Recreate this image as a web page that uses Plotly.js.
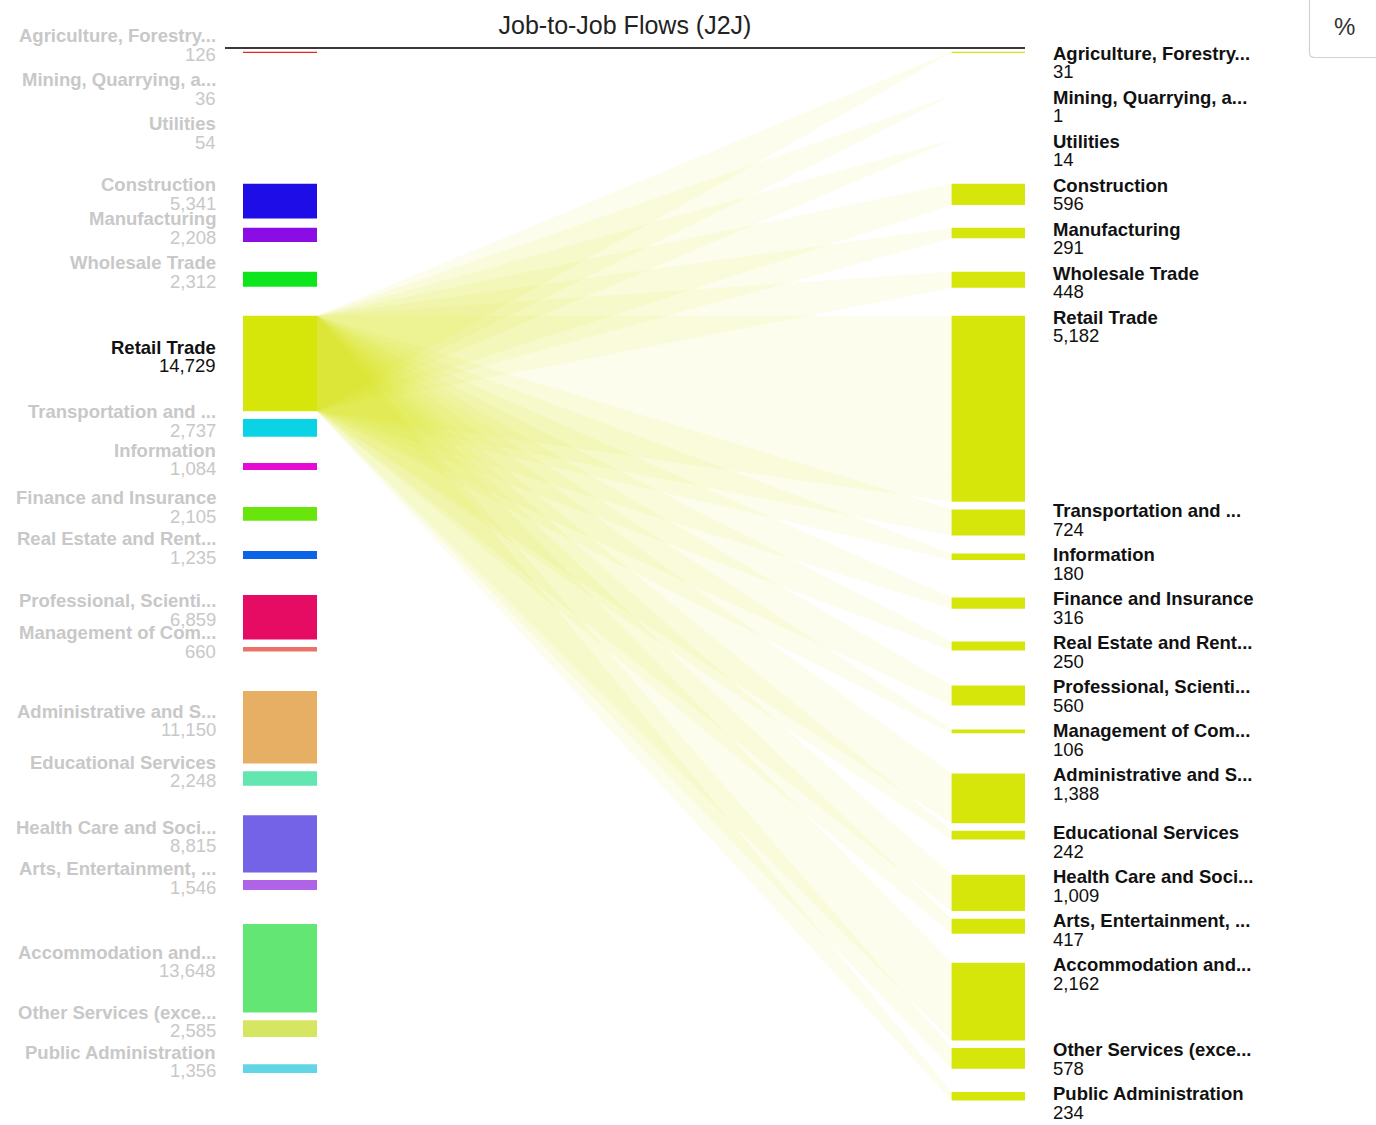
<!DOCTYPE html>
<html>
<head>
<meta charset="utf-8">
<script src="https://cdn.plot.ly/plotly-3.0.1.min.js"></script>
<style>
  html, body { margin: 0; padding: 0; background: #ffffff; }
  #chart { width: 1376px; height: 1125px; }
</style>
</head>
<body>
<div id="chart"></div>
<script>
// ---------------- DATA ----------------
const categories = [
  "Agriculture, Forestry...",
  "Mining, Quarrying, a...",
  "Utilities",
  "Construction",
  "Manufacturing",
  "Wholesale Trade",
  "Retail Trade",
  "Transportation and ...",
  "Information",
  "Finance and Insurance",
  "Real Estate and Rent...",
  "Professional, Scienti...",
  "Management of Com...",
  "Administrative and S...",
  "Educational Services",
  "Health Care and Soci...",
  "Arts, Entertainment, ...",
  "Accommodation and...",
  "Other Services (exce...",
  "Public Administration"
];
// origin industry totals (left column)
const originValues = [126, 36, 54, 5341, 2208, 2312, 14729, 2737, 1084, 2105, 1235, 6859, 660, 11150, 2248, 8815, 1546, 13648, 2585, 1356];
// flows from the selected origin (Retail Trade) into each destination industry (right column)
const destValues = [31, 1, 14, 596, 291, 448, 5182, 724, 180, 316, 250, 560, 106, 1388, 242, 1009, 417, 2162, 578, 234];
const selectedOrigin = "Retail Trade";
const chartTitle = "Job-to-Job Flows (J2J)";

// ---------------- STYLE ----------------
const originColors = [
  "#e6261f", "#e6a00d", "#0de6a0", "#1e0de6", "#8a0de6", "#0de61d", "#d6e60b",
  "#0bd3e6", "#e60bd4", "#68e60b", "#0b63e6", "#e60b63", "#e87366", "#e6af63",
  "#63e6b0", "#7463e6", "#af63e6", "#63e674", "#d6e663", "#63d6e6"
];
const destColor = "#d6e60b";
const flowFill = "rgba(214,230,11,0.08)";
const FONT = "Liberation Sans, Arial, Helvetica, sans-serif";
const FS = 18.5;
const GREY = "rgb(200,200,200)";
const DARK = "#111111";

// ---------------- LAYOUT CONSTANTS (pixels) ----------------
const W = 1376, H = 1125;
const TOP0 = 51.7, SLOT = 44, GAP = 7.6;
const LEFT_X0 = 243, LEFT_X1 = 317;
const RIGHT_X0 = 951.6, RIGHT_X1 = 1025;
const LEFT_SPAN = 525, RIGHT_SPAN = 529;
const LEFT_LABEL_X = 218, RIGHT_LABEL_X = 1051;
const MIN_VISIBLE_PX = 0.6;   // thinner boxes are not drawn
const MIN_DRAWN_PX = 1.4;     // visible boxes are at least this thick

function stackColumn(values, span) {
  const total = values.reduce((a, b) => a + b, 0);
  const s = span / total;
  let y = TOP0;
  return values.map(v => {
    const h = v * s;
    const top = y;
    y += Math.max(SLOT, h + GAP);
    return { top: top, h: h, mid: top + h / 2 };
  });
}
const fmt = v => v.toLocaleString("en-US");
const drawnH = d => (d.h < MIN_VISIBLE_PX ? d.h : Math.max(d.h, MIN_DRAWN_PX));

const left = stackColumn(originValues, LEFT_SPAN);
const right = stackColumn(destValues, RIGHT_SPAN);
const selIdx = categories.indexOf(selectedOrigin);
const src = left[selIdx];

const traces = [];

// boxes, left column
traces.push({
  type: "bar",
  x: categories.map(() => (LEFT_X0 + LEFT_X1) / 2),
  base: left.map(d => d.top),
  y: left.map(drawnH),
  width: LEFT_X1 - LEFT_X0,
  marker: { color: originColors, opacity: left.map(d => d.h < MIN_VISIBLE_PX ? 0 : 1), line: { width: 0 } },
  hoverinfo: "skip",
  showlegend: false
});
// boxes, right column
traces.push({
  type: "bar",
  x: categories.map(() => (RIGHT_X0 + RIGHT_X1) / 2),
  base: right.map(d => d.top),
  y: right.map(drawnH),
  width: RIGHT_X1 - RIGHT_X0,
  marker: { color: categories.map(() => destColor), opacity: right.map(d => d.h < MIN_VISIBLE_PX ? 0 : 1), line: { width: 0 } },
  hoverinfo: "skip",
  showlegend: false
});

// flows from the selected origin to every destination
right.forEach((d, i) => {
  traces.push({
    type: "scatter",
    mode: "lines",
    x: [LEFT_X1, RIGHT_X0, RIGHT_X0, LEFT_X1, LEFT_X1],
    y: [src.top, d.top, d.top + d.h, src.top + src.h, src.top],
    fill: "toself",
    fillcolor: flowFill,
    line: { width: 0, color: "rgba(0,0,0,0)" },
    hoverinfo: "skip",
    showlegend: false
  });
});

// labels
const annotations = [];
categories.forEach((name, i) => {
  const sel = i === selIdx;
  const col = sel ? DARK : GREY;
  const vy = left[i].mid + 2.2;
  annotations.push({
    x: LEFT_LABEL_X, y: vy - 18.5, xref: "x", yref: "y",
    text: "<b>" + name + "</b>", showarrow: false,
    xanchor: "right", yanchor: "middle",
    font: { family: FONT, size: FS, color: col }
  });
  annotations.push({
    x: LEFT_LABEL_X, y: vy, xref: "x", yref: "y",
    text: fmt(originValues[i]), showarrow: false,
    xanchor: "right", yanchor: "middle",
    font: { family: FONT, size: FS, color: col }
  });
  annotations.push({
    x: RIGHT_LABEL_X, y: right[i].top + 1.5, xref: "x", yref: "y",
    text: "<b>" + name + "</b>", showarrow: false,
    xanchor: "left", yanchor: "middle",
    font: { family: FONT, size: FS, color: DARK }
  });
  annotations.push({
    x: RIGHT_LABEL_X, y: right[i].top + 20.2, xref: "x", yref: "y",
    text: fmt(destValues[i]), showarrow: false,
    xanchor: "left", yanchor: "middle",
    font: { family: FONT, size: FS, color: DARK }
  });
});
// "%" toggle button text
annotations.push({
  x: 1344, y: 26, xref: "x", yref: "y", text: "%", showarrow: false,
  xanchor: "center", yanchor: "middle",
  font: { family: FONT, size: 24, color: "#333333" }
});

const r = 5, bx0 = 1309.5, bx1 = 1385, by0 = -6, by1 = 57.5;
const shapes = [
  { type: "line", xref: "x", yref: "y", x0: 225, x1: 1025, y0: 48, y1: 48,
    line: { color: "#3a3a3a", width: 2 } },
  { type: "path", xref: "x", yref: "y",
    path: `M ${bx0},${by0} L ${bx0},${by1 - r} Q ${bx0},${by1} ${bx0 + r},${by1} L ${bx1},${by1} L ${bx1},${by0} Z`,
    line: { color: "#d2d2d2", width: 1.2 }, fillcolor: "#ffffff" }
];

const layout = {
  width: W, height: H,
  margin: { l: 0, r: 0, t: 0, b: 0, pad: 0 },
  paper_bgcolor: "#ffffff", plot_bgcolor: "#ffffff",
  barmode: "overlay",
  showlegend: false,
  hovermode: false,
  title: {
    text: chartTitle,
    x: 625 / W, xref: "paper", xanchor: "center",
    y: 1 - 25 / H, yref: "container", yanchor: "middle",
    font: { family: FONT, size: 25, color: "#222222" }
  },
  xaxis: { range: [0, W], autorange: false, visible: false, fixedrange: true },
  yaxis: { range: [H, 0], autorange: false, visible: false, fixedrange: true },
  annotations: annotations,
  shapes: shapes
};

Plotly.newPlot("chart", traces, layout, { displayModeBar: false, staticPlot: true });
</script>
</body>
</html>
